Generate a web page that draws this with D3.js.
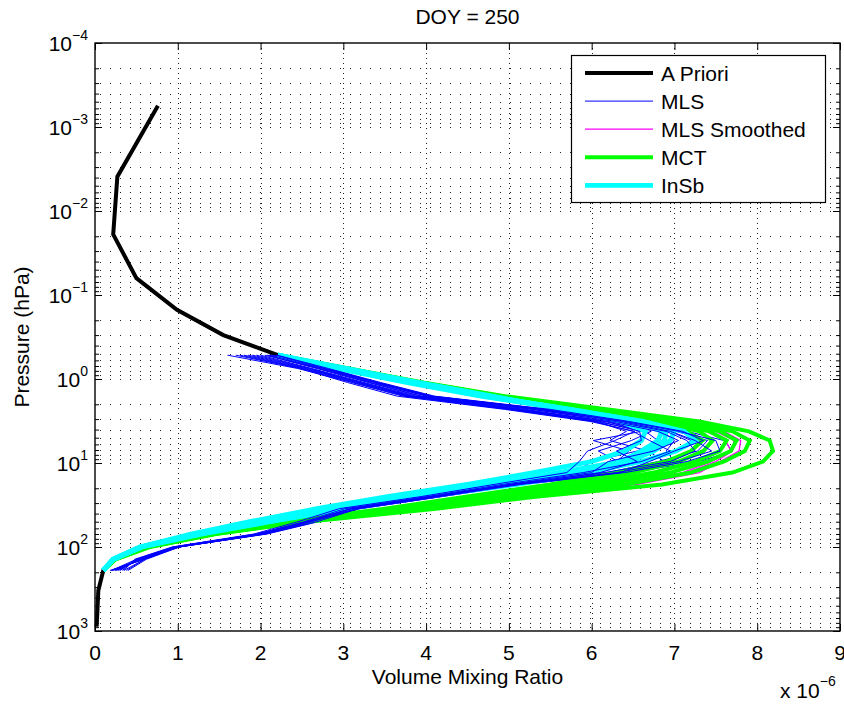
<!DOCTYPE html>
<html><head><meta charset="utf-8">
<script src="https://cdn.jsdelivr.net/npm/d3@7"></script>
<style>
body{margin:0;background:#fff;}
svg text{font-family:"Liberation Sans", Arial, Helvetica, sans-serif;fill:#000;}
</style></head><body>
<svg id="c" width="844" height="704"></svg>
<script>
// ---------------- data ----------------
const titleText = "DOY = 250";
const xLabel = "Volume Mixing Ratio";
const yLabel = "Pressure (hPa)";
const xTicks = [0,1,2,3,4,5,6,7,8,9];
const xTickLabels = ["0","1","2","3","4","5","6","7","8","9"];
const yTicks = [1e-4,1e-3,1e-2,1e-1,1e0,1e1,1e2,1e3];
const yTickExponents = ["−4","−3","−2","−1","0","1","2","3"];
const xMultiplierExp = "−6";

// pressure levels (hPa) shared by the MLS / retrieval profiles
const pressureLevels = [0.52,0.75,1.1,1.6,2.3,3.2,4.2,5.4,7.2,9.6,13,18,25,35,50,70,100,140,190];

// a priori profile (units of 1e-6)
const aprioriPressure = [5.6e-4,3.9e-3,0.019,0.063,0.15,0.3,0.52,0.75,1.1,1.6,2.3,3.2,4.2,5.4,7.2,9.6,13,18,25,35,50,70,100,140,190,330,890];
const aprioriVMR      = [0.76,0.27,0.22,0.5,0.99,1.55,2.21,2.98,3.83,4.73,5.7,6.55,6.9,6.88,6.68,6.4,5.7,4.88,3.8,2.9,2.02,1.24,0.55,0.22,0.1,0.04,0.02];

// MLS profiles
const mlsProfiles = [
 [2.20,2.80,3.42,4.08,5.45,6.40,6.95,7.20,7.05,6.60,6.05,5.05,4.10,3.12,2.58,2.02,0.98,0.55,0.20],
 [2.00,2.62,3.25,3.88,5.20,6.18,6.60,6.02,6.45,6.30,5.95,5.00,4.08,3.05,2.60,1.95,0.95,0.50,0.30],
 [1.60,2.45,3.10,3.72,5.02,6.05,6.65,6.80,6.55,6.00,5.80,4.90,4.00,3.00,2.50,1.98,1.00,0.60,0.35],
 [2.10,2.72,3.35,4.00,5.35,6.38,7.02,7.40,7.28,6.80,6.20,5.10,4.15,3.15,2.62,2.02,0.97,0.50,0.20],
 [1.80,2.52,3.15,3.78,5.08,6.05,6.42,6.22,6.68,6.88,6.25,5.12,4.20,3.20,2.65,2.05,1.02,0.62,0.40],
 [2.15,2.78,3.40,4.05,5.45,6.45,7.15,7.60,7.70,7.30,6.45,5.18,4.20,3.20,2.70,2.08,1.00,0.55,0.25],
 [1.90,2.58,3.20,3.82,5.12,6.15,6.72,6.48,6.08,6.32,5.85,4.95,4.05,3.05,2.55,1.97,0.96,0.52,0.30],
 [2.05,2.70,3.32,3.95,5.30,6.30,6.85,7.00,6.90,7.00,6.30,5.00,4.10,3.12,2.62,2.00,0.99,0.58,0.22],
 [1.70,2.48,3.05,3.65,4.95,5.98,6.52,6.28,5.95,5.85,5.70,4.82,3.95,2.95,2.45,1.92,0.93,0.48,0.35],
 [2.20,2.82,3.45,4.10,5.50,6.45,7.10,7.35,7.00,6.70,6.35,5.10,4.10,3.10,2.58,2.01,0.98,0.60,0.18],
 [1.95,2.60,3.22,3.85,5.15,6.20,6.80,7.05,6.75,6.20,6.00,5.00,4.08,3.08,2.55,1.99,0.97,0.53,0.28],
 [2.12,2.75,3.38,4.02,5.40,6.35,6.95,7.25,7.45,7.05,6.30,5.05,4.12,3.15,2.60,2.03,1.00,0.57,0.24],
 [1.85,2.55,3.18,3.80,5.05,6.10,6.58,6.60,6.30,6.55,6.10,5.08,4.15,3.18,2.62,2.04,1.01,0.60,0.38],
 [2.18,2.78,3.40,4.05,5.42,6.40,7.05,7.50,7.55,7.15,6.40,5.15,4.18,3.18,2.68,2.06,1.02,0.56,0.20],
 [1.75,2.50,3.12,3.75,5.00,6.02,6.50,6.70,6.95,6.60,5.90,4.92,4.02,3.02,2.52,1.96,0.95,0.50,0.33],
 [2.08,2.68,3.30,3.92,5.28,6.28,6.90,7.15,7.25,6.95,6.15,5.02,4.08,3.10,2.56,2.00,0.98,0.54,0.26]
];

// MLS smoothed profiles
const mlsSmoothedProfiles = [
 [2.21,3.04,3.93,4.90,6.05,7.05,7.60,7.80,7.78,7.55,7.30,6.55,5.25,4.02,2.53,1.45,0.64,0.24,0.10],
 [2.21,3.04,3.92,4.88,6.00,6.98,7.50,7.72,7.70,7.50,7.15,6.45,5.20,4.00,2.52,1.44,0.64,0.24,0.10],
 [2.21,3.03,3.91,4.86,5.95,6.90,7.38,7.62,7.68,7.45,7.10,6.35,5.15,3.98,2.50,1.44,0.63,0.24,0.10]
];

// MCT retrievals
const mctProfiles = [
 [2.21,3.03,3.90,4.82,5.85,6.70,7.15,7.34,7.20,6.90,6.30,5.50,4.50,3.50,2.30,1.35,0.60,0.23,0.10],
 [2.21,3.03,3.91,4.84,5.90,6.80,7.30,7.46,7.35,7.05,6.50,5.75,4.70,3.65,2.38,1.38,0.61,0.23,0.10],
 [2.21,3.04,3.92,4.86,5.95,6.90,7.42,7.63,7.55,7.25,6.75,5.95,4.85,3.78,2.44,1.41,0.62,0.24,0.10],
 [2.21,3.04,3.93,4.88,6.00,6.98,7.55,7.75,7.68,7.40,6.95,6.15,5.00,3.88,2.48,1.43,0.63,0.24,0.10],
 [2.21,3.05,3.94,4.90,6.05,7.10,7.70,7.91,7.85,7.60,7.20,6.40,5.15,3.98,2.52,1.44,0.64,0.24,0.10],
 [2.21,3.06,3.96,4.95,6.20,7.30,7.90,8.15,8.19,8.07,7.70,6.85,5.35,4.12,2.56,1.46,0.66,0.25,0.10]
];

// InSb retrievals
const insbProfiles = [
 [2.21,3.05,3.90,4.80,5.65,6.35,6.65,6.60,6.40,6.00,5.30,4.50,3.55,2.68,1.87,1.16,0.54,0.22,0.10],
 [2.21,3.00,3.85,4.75,5.72,6.50,6.85,6.80,6.60,6.35,5.60,4.80,3.75,2.86,2.00,1.23,0.55,0.22,0.10],
 [2.21,2.95,3.80,4.70,5.75,6.60,7.00,6.95,6.75,6.45,5.75,4.92,3.85,2.93,2.04,1.26,0.56,0.22,0.10],
 [2.21,2.92,3.76,4.66,5.72,6.62,7.12,7.25,7.02,6.60,5.95,5.10,4.00,3.05,2.12,1.30,0.57,0.22,0.10],
 [2.21,2.98,3.83,4.73,5.70,6.55,6.90,6.88,6.68,6.40,5.70,4.88,3.80,2.90,2.02,1.24,0.55,0.22,0.10]
];

const seriesNames  = ["A Priori","MLS","MLS Smoothed","MCT","InSb"];
// ---------------- styles ----------------
const seriesColors = ["#000000","#0000ff","#ff00ff","#00ff00","#00ffff"];
const seriesWidths = [4,1,1.3,4,4.8];

// ---------------- drawing ----------------
const W = 844, H = 704;
const L = 95, R = 840, T = 43, B = 631;
const svg = d3.select("#c");
svg.append("rect").attr("width",W).attr("height",H).attr("fill","#fff");

const x = d3.scaleLinear().domain([0,9]).range([L,R]);
const y = d3.scaleLog().domain([1e-4,1e3]).range([T,B]);

const allLogTicks = y.ticks();
const minorTicks = allLogTicks.filter(v => !yTicks.some(t => Math.abs(Math.log10(v)-Math.log10(t))<1e-9));

// grid (horizontal, at every log tick)
const grid = svg.append("g").attr("shape-rendering","crispEdges");
grid.selectAll("line.h").data(allLogTicks.filter(v=>v>1e-4 && v<1e3)).join("line")
  .attr("class","h")
  .attr("x1",L).attr("x2",R)
  .attr("y1",d=>Math.round(y(d))+0.5).attr("y2",d=>Math.round(y(d))+0.5)
  .attr("stroke","#222").attr("stroke-width",1)
  .attr("stroke-dasharray","1,9").attr("stroke-dashoffset",5);
grid.selectAll("line.v").data(xTicks.filter(v=>v>0 && v<9)).join("line")
  .attr("class","v")
  .attr("x1",d=>Math.round(x(d))+0.5).attr("x2",d=>Math.round(x(d))+0.5)
  .attr("y1",T).attr("y2",B)
  .attr("stroke","#222").attr("stroke-width",1)
  .attr("stroke-dasharray","1,4");

// series
const line = d3.line().x(d=>x(d[0])).y(d=>y(d[1]));
const plot = svg.append("g").attr("fill","none").attr("stroke-linejoin","miter").attr("stroke-miterlimit",3);
function drawProfile(vals, pres, idx){
  plot.append("path")
    .datum(vals.map((v,i)=>[v,pres[i]]))
    .attr("d",line)
    .attr("stroke",seriesColors[idx])
    .attr("stroke-width",seriesWidths[idx]);
}
drawProfile(aprioriVMR, aprioriPressure, 0);
const half = Math.ceil(mlsProfiles.length/2);
mlsProfiles.slice(0,half).forEach(p=>drawProfile(p, pressureLevels, 1));
mlsSmoothedProfiles.forEach(p=>drawProfile(p, pressureLevels, 2));
mctProfiles.forEach(p=>drawProfile(p, pressureLevels, 3));
insbProfiles.forEach(p=>drawProfile(p, pressureLevels, 4));
mlsProfiles.slice(half).forEach(p=>drawProfile(p, pressureLevels, 1));

// axes ticks (inward, mirrored)
function styleAxis(g){ g.select(".domain").remove(); g.selectAll(".tick line").attr("stroke","#000"); }
svg.append("g").attr("transform",`translate(0,${B})`)
  .call(d3.axisBottom(x).tickValues(xTicks).tickSize(-7).tickFormat("")).call(styleAxis);
svg.append("g").attr("transform",`translate(0,${T})`)
  .call(d3.axisTop(x).tickValues(xTicks).tickSize(-7).tickFormat("")).call(styleAxis);
svg.append("g").attr("transform",`translate(${L},0)`)
  .call(d3.axisLeft(y).tickValues(yTicks).tickSize(-7).tickFormat("")).call(styleAxis);
svg.append("g").attr("transform",`translate(${L},0)`)
  .call(d3.axisLeft(y).tickValues(minorTicks).tickSize(-4).tickFormat("")).call(styleAxis);
svg.append("g").attr("transform",`translate(${R},0)`)
  .call(d3.axisRight(y).tickValues(yTicks).tickSize(-7).tickFormat("")).call(styleAxis);
svg.append("g").attr("transform",`translate(${R},0)`)
  .call(d3.axisRight(y).tickValues(minorTicks).tickSize(-4).tickFormat("")).call(styleAxis);

// frame
svg.append("rect").attr("x",L).attr("y",T).attr("width",R-L).attr("height",B-T)
  .attr("fill","none").attr("stroke","#000").attr("stroke-width",1.4);

// tick labels
const xl = svg.append("g").attr("font-size",21).attr("text-anchor","middle");
xl.selectAll("text").data(xTicks).join("text")
  .attr("x",d=>x(d)).attr("y",660).text((d,i)=>xTickLabels[i]);

const yl = svg.append("g").attr("text-anchor","end");
yTicks.forEach((t,i)=>{
  const tx = yl.append("text").attr("x",88).attr("y",y(t)+8).attr("font-size",21);
  tx.append("tspan").text("10");
  tx.append("tspan").attr("font-size",14).attr("dy",-11).text(yTickExponents[i]);
});

// multiplier
const mult = svg.append("text").attr("x",780).attr("y",698).attr("font-size",21);
mult.append("tspan").text("x 10");
mult.append("tspan").attr("font-size",14).attr("dy",-12).text(xMultiplierExp);

// title & axis labels
svg.append("text").attr("x",(L+R)/2).attr("y",24).attr("text-anchor","middle").attr("font-size",21).text(titleText);
svg.append("text").attr("x",(L+R)/2).attr("y",684).attr("text-anchor","middle").attr("font-size",21).text(xLabel);
svg.append("text").attr("transform",`translate(29,337) rotate(-90)`).attr("text-anchor","middle").attr("font-size",21).text(yLabel);

// legend
const lg = svg.append("g");
lg.append("rect").attr("x",571.5).attr("y",55.5).attr("width",254).attr("height",147)
  .attr("fill","#fff").attr("stroke","#000").attr("stroke-width",1.2);
seriesNames.forEach((n,i)=>{
  const yy = 73 + i*28.1;
  lg.append("line").attr("x1",585).attr("x2",653).attr("y1",yy).attr("y2",yy)
    .attr("stroke",seriesColors[i]).attr("stroke-width",seriesWidths[i]);
  lg.append("text").attr("x",661).attr("y",yy+8).attr("font-size",21).text(n);
});
</script>
</body></html>
